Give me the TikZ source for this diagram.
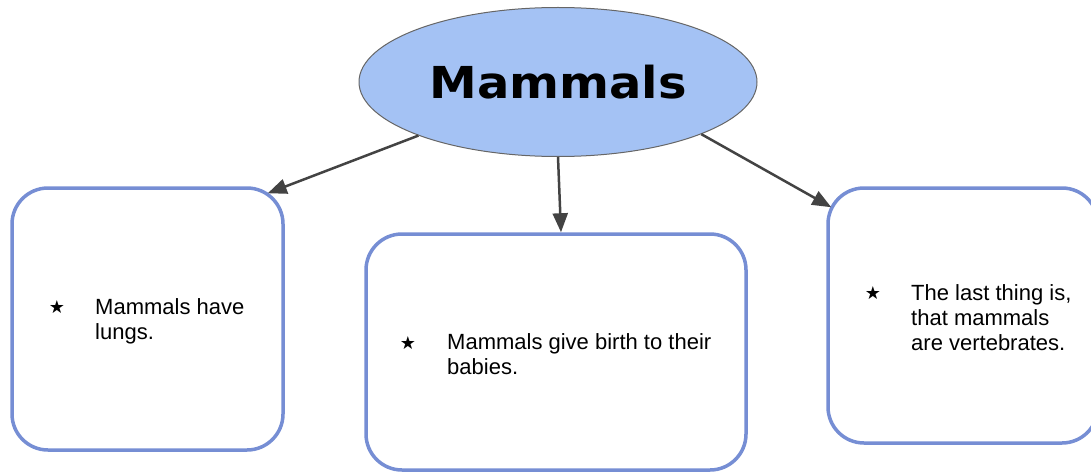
\documentclass[tikz,border=0pt]{standalone}
\usepackage{fontspec}
\setmainfont{Liberation Sans}
\newfontfamily\symfont{DejaVu Sans}
\newfontfamily\titlefont{DejaVu Sans}
\usetikzlibrary{shapes.geometric,arrows.meta}
\definecolor{ellfill}{HTML}{A4C2F4}
\definecolor{boxline}{RGB}{118,142,212}
\definecolor{arrowc}{HTML}{434343}
\definecolor{ellline}{HTML}{666666}
\begin{document}
\begin{tikzpicture}[x=1pt,y=-1pt,
  card/.style={draw=boxline, line width=3.5pt, rounded corners=36pt, rectangle, inner sep=0pt, fill=white},
  link/.style={draw=arrowc, line width=2.5pt, -{Triangle[length=19pt,width=15pt]}},
  bullet/.style={font=\symfont\fontsize{18}{18}\selectfont, inner sep=0pt},
  body/.style={font=\fontsize{22}{25}\selectfont, align=left, inner sep=0pt, anchor=base west},
]
\useasboundingbox (0,0) rectangle (1091,473);
\clip (0,0) rectangle (1091,473);
\node[ellipse, draw=ellline, line width=1pt, fill=ellfill, minimum width=398pt, minimum height=149pt, inner sep=0pt] (ell) at (558,82) {};
\node[font=\titlefont\bfseries\fontsize{44}{44}\selectfont, anchor=base, inner sep=0pt, xscale=1.09, transform shape] (title) at (558,99) {Mammals};

\node[card, minimum width=271pt, minimum height=262pt] (lbox) at (147.5,319) {};
\node[card, minimum width=380pt, minimum height=236pt] (mbox) at (556,352) {};
\node[card, minimum width=270pt, minimum height=255pt] (rbox) at (963,315.5) {};

\node[bullet] (lstar) at (57,307) {★};
\node[body] (ltext) at (95,339) {Mammals have\\lungs.};
\node[bullet] (mstar) at (408,343) {★};
\node[body] (mtext) at (447,374) {Mammals give birth to their\\babies.};
\node[bullet] (rstar) at (873,293) {★};
\node[body] (rtext) at (911,350) {The last thing is,\\that mammals\\are vertebrates.};

\draw[link] (ell.201) -- ([xshift=-17pt,yshift=-7pt]lbox.north east);
\draw[link] (ell.south) -- ([xshift=5pt]mbox.north);
\draw[link] (ell.-20) -- ([xshift=5pt,yshift=-21pt]rbox.north west);
\end{tikzpicture}
\end{document}
